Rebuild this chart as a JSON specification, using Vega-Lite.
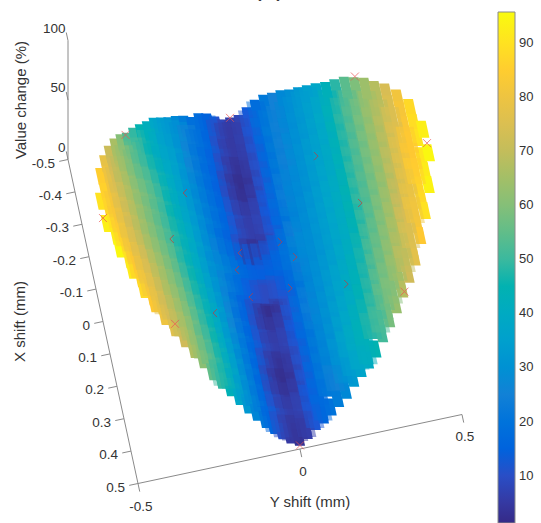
{"$schema":"https://vega.github.io/schema/vega-lite/v6.json","width":541,"height":523,"autosize":"none","padding":0,"background":"white",
"config":{"view":{"stroke":null}},
"datasets":{
"surface":[
{"x":-0.04,"y":-0.495,"v":90},{"x":0.04,"y":-0.495,"v":93},
{"x":-0.13,"y":-0.475,"v":85},{"x":-0.08,"y":-0.475,"v":86},{"x":-0.03,"y":-0.475,"v":87},{"x":0.03,"y":-0.475,"v":90},{"x":0.08,"y":-0.475,"v":92},{"x":0.13,"y":-0.475,"v":95},
{"x":-0.19,"y":-0.45,"v":78},{"x":-0.15,"y":-0.45,"v":80},{"x":-0.1,"y":-0.45,"v":81},{"x":-0.05,"y":-0.45,"v":82},{"x":0,"y":-0.45,"v":83},{"x":0.05,"y":-0.45,"v":85},{"x":0.1,"y":-0.45,"v":88},{"x":0.15,"y":-0.45,"v":90},{"x":0.19,"y":-0.45,"v":92},
{"x":-0.24,"y":-0.425,"v":71},{"x":-0.2,"y":-0.425,"v":72},{"x":-0.15,"y":-0.425,"v":74},{"x":-0.1,"y":-0.425,"v":75},{"x":-0.05,"y":-0.425,"v":76},{"x":0,"y":-0.425,"v":77},{"x":0.05,"y":-0.425,"v":79},{"x":0.1,"y":-0.425,"v":82},{"x":0.15,"y":-0.425,"v":84},{"x":0.2,"y":-0.425,"v":86},{"x":0.24,"y":-0.425,"v":88},
{"x":-0.275,"y":-0.4,"v":66},{"x":-0.25,"y":-0.4,"v":66},{"x":-0.2,"y":-0.4,"v":68},{"x":-0.15,"y":-0.4,"v":69},{"x":-0.1,"y":-0.4,"v":70},{"x":-0.05,"y":-0.4,"v":71},{"x":0,"y":-0.4,"v":72},{"x":0.05,"y":-0.4,"v":74},{"x":0.1,"y":-0.4,"v":76},{"x":0.15,"y":-0.4,"v":78},{"x":0.2,"y":-0.4,"v":81},{"x":0.25,"y":-0.4,"v":83},{"x":0.275,"y":-0.4,"v":84},
{"x":-0.305,"y":-0.375,"v":60},{"x":-0.25,"y":-0.375,"v":62},{"x":-0.2,"y":-0.375,"v":64},{"x":-0.15,"y":-0.375,"v":65},{"x":-0.1,"y":-0.375,"v":66},{"x":-0.05,"y":-0.375,"v":67},{"x":0,"y":-0.375,"v":68},{"x":0.05,"y":-0.375,"v":70},{"x":0.1,"y":-0.375,"v":72},{"x":0.15,"y":-0.375,"v":74},{"x":0.2,"y":-0.375,"v":76},{"x":0.25,"y":-0.375,"v":78},{"x":0.305,"y":-0.375,"v":80},
{"x":-0.33,"y":-0.35,"v":53},{"x":-0.3,"y":-0.35,"v":54},{"x":-0.25,"y":-0.35,"v":57},{"x":-0.2,"y":-0.35,"v":59},{"x":-0.15,"y":-0.35,"v":60},{"x":-0.1,"y":-0.35,"v":61},{"x":-0.05,"y":-0.35,"v":62},{"x":0,"y":-0.35,"v":63},{"x":0.05,"y":-0.35,"v":65},{"x":0.1,"y":-0.35,"v":67},{"x":0.15,"y":-0.35,"v":69},{"x":0.2,"y":-0.35,"v":71},{"x":0.25,"y":-0.35,"v":72},{"x":0.3,"y":-0.35,"v":74},{"x":0.33,"y":-0.35,"v":76},
{"x":-0.355,"y":-0.325,"v":49},{"x":-0.3,"y":-0.325,"v":52},{"x":-0.25,"y":-0.325,"v":53},{"x":-0.2,"y":-0.325,"v":55},{"x":-0.15,"y":-0.325,"v":57},{"x":-0.1,"y":-0.325,"v":57},{"x":-0.05,"y":-0.325,"v":58},{"x":0,"y":-0.325,"v":59},{"x":0.05,"y":-0.325,"v":61},{"x":0.1,"y":-0.325,"v":63},{"x":0.15,"y":-0.325,"v":64},{"x":0.2,"y":-0.325,"v":66},{"x":0.25,"y":-0.325,"v":68},{"x":0.3,"y":-0.325,"v":70},{"x":0.355,"y":-0.325,"v":72},
{"x":-0.375,"y":-0.3,"v":45},{"x":-0.35,"y":-0.3,"v":47},{"x":-0.3,"y":-0.3,"v":48},{"x":-0.25,"y":-0.3,"v":50},{"x":-0.2,"y":-0.3,"v":52},{"x":-0.15,"y":-0.3,"v":53},{"x":-0.1,"y":-0.3,"v":53},{"x":-0.05,"y":-0.3,"v":54},{"x":0,"y":-0.3,"v":55},{"x":0.05,"y":-0.3,"v":57},{"x":0.1,"y":-0.3,"v":58},{"x":0.15,"y":-0.3,"v":60},{"x":0.2,"y":-0.3,"v":62},{"x":0.25,"y":-0.3,"v":63},{"x":0.3,"y":-0.3,"v":65},{"x":0.35,"y":-0.3,"v":67},{"x":0.375,"y":-0.3,"v":67},
{"x":-0.39,"y":-0.275,"v":42},{"x":-0.35,"y":-0.275,"v":43},{"x":-0.3,"y":-0.275,"v":44},{"x":-0.25,"y":-0.275,"v":46},{"x":-0.2,"y":-0.275,"v":48},{"x":-0.15,"y":-0.275,"v":49},{"x":-0.1,"y":-0.275,"v":49},{"x":-0.05,"y":-0.275,"v":50},{"x":0,"y":-0.275,"v":51},{"x":0.05,"y":-0.275,"v":53},{"x":0.1,"y":-0.275,"v":54},{"x":0.15,"y":-0.275,"v":56},{"x":0.2,"y":-0.275,"v":57},{"x":0.25,"y":-0.275,"v":59},{"x":0.3,"y":-0.275,"v":60},{"x":0.35,"y":-0.275,"v":62},{"x":0.39,"y":-0.275,"v":61},
{"x":-0.41,"y":-0.25,"v":38},{"x":-0.35,"y":-0.25,"v":39},{"x":-0.3,"y":-0.25,"v":40},{"x":-0.25,"y":-0.25,"v":42},{"x":-0.2,"y":-0.25,"v":43},{"x":-0.15,"y":-0.25,"v":44},{"x":-0.1,"y":-0.25,"v":45},{"x":-0.05,"y":-0.25,"v":46},{"x":0,"y":-0.25,"v":46},{"x":0.05,"y":-0.25,"v":47},{"x":0.1,"y":-0.25,"v":49},{"x":0.15,"y":-0.25,"v":50},{"x":0.2,"y":-0.25,"v":52},{"x":0.25,"y":-0.25,"v":53},{"x":0.3,"y":-0.25,"v":54},{"x":0.35,"y":-0.25,"v":56},{"x":0.41,"y":-0.25,"v":55},
{"x":-0.42,"y":-0.225,"v":34},{"x":-0.4,"y":-0.225,"v":35},{"x":-0.35,"y":-0.225,"v":36},{"x":-0.3,"y":-0.225,"v":37},{"x":-0.25,"y":-0.225,"v":39},{"x":-0.2,"y":-0.225,"v":39},{"x":-0.15,"y":-0.225,"v":40},{"x":-0.1,"y":-0.225,"v":41},{"x":-0.05,"y":-0.225,"v":42},{"x":0,"y":-0.225,"v":42},{"x":0.05,"y":-0.225,"v":43},{"x":0.1,"y":-0.225,"v":45},{"x":0.15,"y":-0.225,"v":46},{"x":0.2,"y":-0.225,"v":47},{"x":0.25,"y":-0.225,"v":48},{"x":0.3,"y":-0.225,"v":50},{"x":0.35,"y":-0.225,"v":51},{"x":0.4,"y":-0.225,"v":50},{"x":0.42,"y":-0.225,"v":49},
{"x":-0.43,"y":-0.2,"v":30},{"x":-0.4,"y":-0.2,"v":32},{"x":-0.35,"y":-0.2,"v":34},{"x":-0.3,"y":-0.2,"v":35},{"x":-0.25,"y":-0.2,"v":35},{"x":-0.2,"y":-0.2,"v":36},{"x":-0.15,"y":-0.2,"v":36},{"x":-0.1,"y":-0.2,"v":37},{"x":-0.05,"y":-0.2,"v":38},{"x":0,"y":-0.2,"v":38},{"x":0.05,"y":-0.2,"v":39},{"x":0.1,"y":-0.2,"v":40},{"x":0.15,"y":-0.2,"v":41},{"x":0.2,"y":-0.2,"v":43},{"x":0.25,"y":-0.2,"v":44},{"x":0.3,"y":-0.2,"v":45},{"x":0.35,"y":-0.2,"v":46},{"x":0.4,"y":-0.2,"v":46},{"x":0.43,"y":-0.2,"v":44},
{"x":-0.44,"y":-0.175,"v":27},{"x":-0.4,"y":-0.175,"v":29},{"x":-0.35,"y":-0.175,"v":30},{"x":-0.3,"y":-0.175,"v":30},{"x":-0.25,"y":-0.175,"v":30},{"x":-0.2,"y":-0.175,"v":31},{"x":-0.15,"y":-0.175,"v":32},{"x":-0.1,"y":-0.175,"v":32},{"x":-0.05,"y":-0.175,"v":33},{"x":0,"y":-0.175,"v":33},{"x":0.05,"y":-0.175,"v":34},{"x":0.1,"y":-0.175,"v":35},{"x":0.15,"y":-0.175,"v":36},{"x":0.2,"y":-0.175,"v":37},{"x":0.25,"y":-0.175,"v":38},{"x":0.3,"y":-0.175,"v":39},{"x":0.35,"y":-0.175,"v":40},{"x":0.4,"y":-0.175,"v":40},{"x":0.44,"y":-0.175,"v":38},
{"x":-0.45,"y":-0.15,"v":23},{"x":-0.4,"y":-0.15,"v":25},{"x":-0.35,"y":-0.15,"v":25},{"x":-0.3,"y":-0.15,"v":25},{"x":-0.25,"y":-0.15,"v":26},{"x":-0.2,"y":-0.15,"v":26},{"x":-0.15,"y":-0.15,"v":27},{"x":-0.1,"y":-0.15,"v":27},{"x":-0.05,"y":-0.15,"v":28},{"x":0,"y":-0.15,"v":28},{"x":0.05,"y":-0.15,"v":29},{"x":0.1,"y":-0.15,"v":30},{"x":0.15,"y":-0.15,"v":31},{"x":0.2,"y":-0.15,"v":31},{"x":0.25,"y":-0.15,"v":32},{"x":0.3,"y":-0.15,"v":33},{"x":0.35,"y":-0.15,"v":34},{"x":0.4,"y":-0.15,"v":33},{"x":0.45,"y":-0.15,"v":32},
{"x":-0.455,"y":-0.125,"v":19},{"x":-0.4,"y":-0.125,"v":20},{"x":-0.35,"y":-0.125,"v":21},{"x":-0.3,"y":-0.125,"v":21},{"x":-0.25,"y":-0.125,"v":21},{"x":-0.2,"y":-0.125,"v":22},{"x":-0.15,"y":-0.125,"v":22},{"x":-0.1,"y":-0.125,"v":22},{"x":-0.05,"y":-0.125,"v":24},{"x":0,"y":-0.125,"v":26},{"x":0.05,"y":-0.125,"v":24},{"x":0.1,"y":-0.125,"v":24},{"x":0.15,"y":-0.125,"v":25},{"x":0.2,"y":-0.125,"v":25},{"x":0.25,"y":-0.125,"v":26},{"x":0.3,"y":-0.125,"v":26},{"x":0.35,"y":-0.125,"v":27},{"x":0.4,"y":-0.125,"v":27},{"x":0.455,"y":-0.125,"v":26},
{"x":-0.465,"y":-0.1,"v":18},{"x":-0.4,"y":-0.1,"v":18},{"x":-0.35,"y":-0.1,"v":17},{"x":-0.3,"y":-0.1,"v":17},{"x":-0.25,"y":-0.1,"v":17},{"x":-0.2,"y":-0.1,"v":18},{"x":-0.15,"y":-0.1,"v":18},{"x":-0.1,"y":-0.1,"v":17},{"x":-0.05,"y":-0.1,"v":21},{"x":0,"y":-0.1,"v":22},{"x":0.05,"y":-0.1,"v":20},{"x":0.1,"y":-0.1,"v":18},{"x":0.15,"y":-0.1,"v":19},{"x":0.2,"y":-0.1,"v":20},{"x":0.25,"y":-0.1,"v":20},{"x":0.3,"y":-0.1,"v":20},{"x":0.35,"y":-0.1,"v":21},{"x":0.4,"y":-0.1,"v":21},{"x":0.465,"y":-0.1,"v":21},
{"x":-0.47,"y":-0.075,"v":15},{"x":-0.45,"y":-0.075,"v":15},{"x":-0.4,"y":-0.075,"v":15},{"x":-0.35,"y":-0.075,"v":14},{"x":-0.3,"y":-0.075,"v":14},{"x":-0.25,"y":-0.075,"v":14},{"x":-0.2,"y":-0.075,"v":15},{"x":-0.15,"y":-0.075,"v":15},{"x":-0.1,"y":-0.075,"v":14},{"x":-0.05,"y":-0.075,"v":18},{"x":0,"y":-0.075,"v":19},{"x":0.05,"y":-0.075,"v":17},{"x":0.1,"y":-0.075,"v":14},{"x":0.15,"y":-0.075,"v":15},{"x":0.2,"y":-0.075,"v":15},{"x":0.25,"y":-0.075,"v":15},{"x":0.3,"y":-0.075,"v":15},{"x":0.35,"y":-0.075,"v":15},{"x":0.4,"y":-0.075,"v":16},{"x":0.45,"y":-0.075,"v":16},{"x":0.47,"y":-0.075,"v":16},
{"x":-0.47,"y":-0.05,"v":11},{"x":-0.45,"y":-0.05,"v":10},{"x":-0.4,"y":-0.05,"v":10},{"x":-0.35,"y":-0.05,"v":9},{"x":-0.3,"y":-0.05,"v":8},{"x":-0.25,"y":-0.05,"v":9},{"x":-0.2,"y":-0.05,"v":11},{"x":-0.15,"y":-0.05,"v":11},{"x":-0.1,"y":-0.05,"v":9},{"x":-0.05,"y":-0.05,"v":15},{"x":0,"y":-0.05,"v":16},{"x":0.05,"y":-0.05,"v":13},{"x":0.1,"y":-0.05,"v":9},{"x":0.15,"y":-0.05,"v":10},{"x":0.2,"y":-0.05,"v":11},{"x":0.25,"y":-0.05,"v":9},{"x":0.3,"y":-0.05,"v":8},{"x":0.35,"y":-0.05,"v":9},{"x":0.4,"y":-0.05,"v":11},{"x":0.45,"y":-0.05,"v":10},{"x":0.47,"y":-0.05,"v":10},
{"x":-0.47,"y":-0.025,"v":7},{"x":-0.45,"y":-0.025,"v":6},{"x":-0.4,"y":-0.025,"v":6},{"x":-0.35,"y":-0.025,"v":5},{"x":-0.3,"y":-0.025,"v":4},{"x":-0.25,"y":-0.025,"v":5},{"x":-0.2,"y":-0.025,"v":7},{"x":-0.15,"y":-0.025,"v":7},{"x":-0.1,"y":-0.025,"v":4},{"x":-0.05,"y":-0.025,"v":13},{"x":0,"y":-0.025,"v":14},{"x":0.05,"y":-0.025,"v":10},{"x":0.1,"y":-0.025,"v":4},{"x":0.15,"y":-0.025,"v":6},{"x":0.2,"y":-0.025,"v":7},{"x":0.25,"y":-0.025,"v":5},{"x":0.3,"y":-0.025,"v":4},{"x":0.35,"y":-0.025,"v":6},{"x":0.4,"y":-0.025,"v":7},{"x":0.45,"y":-0.025,"v":6},{"x":0.47,"y":-0.025,"v":5},
{"x":-0.475,"y":0,"v":6},{"x":-0.45,"y":0,"v":5},{"x":-0.4,"y":0,"v":5},{"x":-0.35,"y":0,"v":3},{"x":-0.3,"y":0,"v":2},{"x":-0.25,"y":0,"v":3},{"x":-0.2,"y":0,"v":6},{"x":-0.15,"y":0,"v":6},{"x":-0.1,"y":0,"v":2},{"x":-0.05,"y":0,"v":12},{"x":0,"y":0,"v":14},{"x":0.05,"y":0,"v":9},{"x":0.1,"y":0,"v":2},{"x":0.15,"y":0,"v":5},{"x":0.2,"y":0,"v":6},{"x":0.25,"y":0,"v":3},{"x":0.3,"y":0,"v":2},{"x":0.35,"y":0,"v":4},{"x":0.4,"y":0,"v":6},{"x":0.45,"y":0,"v":4},{"x":0.475,"y":0,"v":3},
{"x":-0.47,"y":0.025,"v":8},{"x":-0.45,"y":0.025,"v":7},{"x":-0.4,"y":0.025,"v":7},{"x":-0.35,"y":0.025,"v":6},{"x":-0.3,"y":0.025,"v":5},{"x":-0.25,"y":0.025,"v":6},{"x":-0.2,"y":0.025,"v":8},{"x":-0.15,"y":0.025,"v":8},{"x":-0.1,"y":0.025,"v":5},{"x":-0.05,"y":0.025,"v":13},{"x":0,"y":0.025,"v":15},{"x":0.05,"y":0.025,"v":11},{"x":0.1,"y":0.025,"v":5},{"x":0.15,"y":0.025,"v":7},{"x":0.2,"y":0.025,"v":8},{"x":0.25,"y":0.025,"v":6},{"x":0.3,"y":0.025,"v":5},{"x":0.35,"y":0.025,"v":6},{"x":0.4,"y":0.025,"v":8},{"x":0.45,"y":0.025,"v":6},{"x":0.47,"y":0.025,"v":6},
{"x":-0.47,"y":0.05,"v":13},{"x":-0.45,"y":0.05,"v":12},{"x":-0.4,"y":0.05,"v":12},{"x":-0.35,"y":0.05,"v":11},{"x":-0.3,"y":0.05,"v":11},{"x":-0.25,"y":0.05,"v":11},{"x":-0.2,"y":0.05,"v":13},{"x":-0.15,"y":0.05,"v":13},{"x":-0.1,"y":0.05,"v":11},{"x":-0.05,"y":0.05,"v":16},{"x":0,"y":0.05,"v":17},{"x":0.05,"y":0.05,"v":14},{"x":0.1,"y":0.05,"v":11},{"x":0.15,"y":0.05,"v":12},{"x":0.2,"y":0.05,"v":13},{"x":0.25,"y":0.05,"v":11},{"x":0.3,"y":0.05,"v":11},{"x":0.35,"y":0.05,"v":12},{"x":0.4,"y":0.05,"v":13},{"x":0.45,"y":0.05,"v":12},{"x":0.47,"y":0.05,"v":12},
{"x":-0.47,"y":0.075,"v":18},{"x":-0.45,"y":0.075,"v":18},{"x":-0.4,"y":0.075,"v":18},{"x":-0.35,"y":0.075,"v":17},{"x":-0.3,"y":0.075,"v":17},{"x":-0.25,"y":0.075,"v":17},{"x":-0.2,"y":0.075,"v":18},{"x":-0.15,"y":0.075,"v":18},{"x":-0.1,"y":0.075,"v":17},{"x":-0.05,"y":0.075,"v":20},{"x":0,"y":0.075,"v":21},{"x":0.05,"y":0.075,"v":19},{"x":0.1,"y":0.075,"v":17},{"x":0.15,"y":0.075,"v":18},{"x":0.2,"y":0.075,"v":18},{"x":0.25,"y":0.075,"v":17},{"x":0.3,"y":0.075,"v":17},{"x":0.35,"y":0.075,"v":17},{"x":0.4,"y":0.075,"v":17},{"x":0.45,"y":0.075,"v":17},{"x":0.47,"y":0.075,"v":16},
{"x":-0.465,"y":0.1,"v":22},{"x":-0.4,"y":0.1,"v":23},{"x":-0.35,"y":0.1,"v":23},{"x":-0.3,"y":0.1,"v":23},{"x":-0.25,"y":0.1,"v":23},{"x":-0.2,"y":0.1,"v":24},{"x":-0.15,"y":0.1,"v":24},{"x":-0.1,"y":0.1,"v":23},{"x":-0.05,"y":0.1,"v":25},{"x":0,"y":0.1,"v":26},{"x":0.05,"y":0.1,"v":24},{"x":0.1,"y":0.1,"v":23},{"x":0.15,"y":0.1,"v":24},{"x":0.2,"y":0.1,"v":24},{"x":0.25,"y":0.1,"v":23},{"x":0.3,"y":0.1,"v":23},{"x":0.35,"y":0.1,"v":23},{"x":0.4,"y":0.1,"v":22},{"x":0.465,"y":0.1,"v":20},
{"x":-0.455,"y":0.125,"v":25},{"x":-0.4,"y":0.125,"v":25},{"x":-0.35,"y":0.125,"v":25},{"x":-0.3,"y":0.125,"v":25},{"x":-0.25,"y":0.125,"v":25},{"x":-0.2,"y":0.125,"v":26},{"x":-0.15,"y":0.125,"v":26},{"x":-0.1,"y":0.125,"v":26},{"x":-0.05,"y":0.125,"v":27},{"x":0,"y":0.125,"v":28},{"x":0.05,"y":0.125,"v":27},{"x":0.1,"y":0.125,"v":27},{"x":0.15,"y":0.125,"v":27},{"x":0.2,"y":0.125,"v":27},{"x":0.25,"y":0.125,"v":27},{"x":0.3,"y":0.125,"v":27},{"x":0.35,"y":0.125,"v":26},{"x":0.4,"y":0.125,"v":25},{"x":0.455,"y":0.125,"v":23},
{"x":-0.45,"y":0.15,"v":27},{"x":-0.4,"y":0.15,"v":27},{"x":-0.35,"y":0.15,"v":27},{"x":-0.3,"y":0.15,"v":28},{"x":-0.25,"y":0.15,"v":28},{"x":-0.2,"y":0.15,"v":28},{"x":-0.15,"y":0.15,"v":28},{"x":-0.1,"y":0.15,"v":29},{"x":-0.05,"y":0.15,"v":29},{"x":0,"y":0.15,"v":29},{"x":0.05,"y":0.15,"v":29},{"x":0.1,"y":0.15,"v":30},{"x":0.15,"y":0.15,"v":30},{"x":0.2,"y":0.15,"v":31},{"x":0.25,"y":0.15,"v":31},{"x":0.3,"y":0.15,"v":31},{"x":0.35,"y":0.15,"v":32},{"x":0.4,"y":0.15,"v":30},{"x":0.45,"y":0.15,"v":27},
{"x":-0.44,"y":0.175,"v":29},{"x":-0.4,"y":0.175,"v":30},{"x":-0.35,"y":0.175,"v":30},{"x":-0.3,"y":0.175,"v":30},{"x":-0.25,"y":0.175,"v":31},{"x":-0.2,"y":0.175,"v":31},{"x":-0.15,"y":0.175,"v":31},{"x":-0.1,"y":0.175,"v":32},{"x":-0.05,"y":0.175,"v":32},{"x":0,"y":0.175,"v":32},{"x":0.05,"y":0.175,"v":32},{"x":0.1,"y":0.175,"v":33},{"x":0.15,"y":0.175,"v":34},{"x":0.2,"y":0.175,"v":34},{"x":0.25,"y":0.175,"v":35},{"x":0.3,"y":0.175,"v":36},{"x":0.35,"y":0.175,"v":37},{"x":0.4,"y":0.175,"v":35},{"x":0.44,"y":0.175,"v":33},
{"x":-0.43,"y":0.2,"v":32},{"x":-0.4,"y":0.2,"v":33},{"x":-0.35,"y":0.2,"v":33},{"x":-0.3,"y":0.2,"v":33},{"x":-0.25,"y":0.2,"v":34},{"x":-0.2,"y":0.2,"v":34},{"x":-0.15,"y":0.2,"v":34},{"x":-0.1,"y":0.2,"v":35},{"x":-0.05,"y":0.2,"v":35},{"x":0,"y":0.2,"v":35},{"x":0.05,"y":0.2,"v":35},{"x":0.1,"y":0.2,"v":36},{"x":0.15,"y":0.2,"v":37},{"x":0.2,"y":0.2,"v":37},{"x":0.25,"y":0.2,"v":38},{"x":0.3,"y":0.2,"v":39},{"x":0.35,"y":0.2,"v":41},{"x":0.4,"y":0.2,"v":39},{"x":0.43,"y":0.2,"v":37},
{"x":-0.42,"y":0.225,"v":35},{"x":-0.4,"y":0.225,"v":35},{"x":-0.35,"y":0.225,"v":36},{"x":-0.3,"y":0.225,"v":36},{"x":-0.25,"y":0.225,"v":36},{"x":-0.2,"y":0.225,"v":37},{"x":-0.15,"y":0.225,"v":37},{"x":-0.1,"y":0.225,"v":38},{"x":-0.05,"y":0.225,"v":38},{"x":0,"y":0.225,"v":38},{"x":0.05,"y":0.225,"v":38},{"x":0.1,"y":0.225,"v":39},{"x":0.15,"y":0.225,"v":40},{"x":0.2,"y":0.225,"v":41},{"x":0.25,"y":0.225,"v":41},{"x":0.3,"y":0.225,"v":43},{"x":0.35,"y":0.225,"v":44},{"x":0.4,"y":0.225,"v":42},{"x":0.42,"y":0.225,"v":40},
{"x":-0.41,"y":0.25,"v":38},{"x":-0.35,"y":0.25,"v":39},{"x":-0.3,"y":0.25,"v":39},{"x":-0.25,"y":0.25,"v":39},{"x":-0.2,"y":0.25,"v":40},{"x":-0.15,"y":0.25,"v":40},{"x":-0.1,"y":0.25,"v":41},{"x":-0.05,"y":0.25,"v":41},{"x":0,"y":0.25,"v":41},{"x":0.05,"y":0.25,"v":41},{"x":0.1,"y":0.25,"v":42},{"x":0.15,"y":0.25,"v":43},{"x":0.2,"y":0.25,"v":44},{"x":0.25,"y":0.25,"v":45},{"x":0.3,"y":0.25,"v":46},{"x":0.35,"y":0.25,"v":48},{"x":0.41,"y":0.25,"v":45},
{"x":-0.39,"y":0.275,"v":43},{"x":-0.35,"y":0.275,"v":43},{"x":-0.3,"y":0.275,"v":44},{"x":-0.25,"y":0.275,"v":44},{"x":-0.2,"y":0.275,"v":44},{"x":-0.15,"y":0.275,"v":44},{"x":-0.1,"y":0.275,"v":45},{"x":-0.05,"y":0.275,"v":45},{"x":0,"y":0.275,"v":45},{"x":0.05,"y":0.275,"v":45},{"x":0.1,"y":0.275,"v":46},{"x":0.15,"y":0.275,"v":47},{"x":0.2,"y":0.275,"v":48},{"x":0.25,"y":0.275,"v":49},{"x":0.3,"y":0.275,"v":50},{"x":0.35,"y":0.275,"v":52},{"x":0.39,"y":0.275,"v":51},
{"x":-0.375,"y":0.3,"v":48},{"x":-0.35,"y":0.3,"v":48},{"x":-0.3,"y":0.3,"v":49},{"x":-0.25,"y":0.3,"v":49},{"x":-0.2,"y":0.3,"v":49},{"x":-0.15,"y":0.3,"v":49},{"x":-0.1,"y":0.3,"v":50},{"x":-0.05,"y":0.3,"v":50},{"x":0,"y":0.3,"v":50},{"x":0.05,"y":0.3,"v":50},{"x":0.1,"y":0.3,"v":52},{"x":0.15,"y":0.3,"v":53},{"x":0.2,"y":0.3,"v":54},{"x":0.25,"y":0.3,"v":55},{"x":0.3,"y":0.3,"v":56},{"x":0.35,"y":0.3,"v":58},{"x":0.375,"y":0.3,"v":58},
{"x":-0.355,"y":0.325,"v":54},{"x":-0.3,"y":0.325,"v":54},{"x":-0.25,"y":0.325,"v":54},{"x":-0.2,"y":0.325,"v":54},{"x":-0.15,"y":0.325,"v":54},{"x":-0.1,"y":0.325,"v":54},{"x":-0.05,"y":0.325,"v":54},{"x":0,"y":0.325,"v":54},{"x":0.05,"y":0.325,"v":55},{"x":0.1,"y":0.325,"v":56},{"x":0.15,"y":0.325,"v":57},{"x":0.2,"y":0.325,"v":58},{"x":0.25,"y":0.325,"v":59},{"x":0.3,"y":0.325,"v":60},{"x":0.355,"y":0.325,"v":63},
{"x":-0.33,"y":0.35,"v":59},{"x":-0.3,"y":0.35,"v":59},{"x":-0.25,"y":0.35,"v":59},{"x":-0.2,"y":0.35,"v":59},{"x":-0.15,"y":0.35,"v":59},{"x":-0.1,"y":0.35,"v":59},{"x":-0.05,"y":0.35,"v":59},{"x":0,"y":0.35,"v":59},{"x":0.05,"y":0.35,"v":60},{"x":0.1,"y":0.35,"v":61},{"x":0.15,"y":0.35,"v":62},{"x":0.2,"y":0.35,"v":63},{"x":0.25,"y":0.35,"v":64},{"x":0.3,"y":0.35,"v":66},{"x":0.33,"y":0.35,"v":68},
{"x":-0.305,"y":0.375,"v":64},{"x":-0.25,"y":0.375,"v":64},{"x":-0.2,"y":0.375,"v":64},{"x":-0.15,"y":0.375,"v":64},{"x":-0.1,"y":0.375,"v":64},{"x":-0.05,"y":0.375,"v":64},{"x":0,"y":0.375,"v":64},{"x":0.05,"y":0.375,"v":65},{"x":0.1,"y":0.375,"v":66},{"x":0.15,"y":0.375,"v":67},{"x":0.2,"y":0.375,"v":68},{"x":0.25,"y":0.375,"v":70},{"x":0.305,"y":0.375,"v":72},
{"x":-0.275,"y":0.4,"v":68},{"x":-0.25,"y":0.4,"v":68},{"x":-0.2,"y":0.4,"v":69},{"x":-0.15,"y":0.4,"v":69},{"x":-0.1,"y":0.4,"v":69},{"x":-0.05,"y":0.4,"v":70},{"x":0,"y":0.4,"v":70},{"x":0.05,"y":0.4,"v":71},{"x":0.1,"y":0.4,"v":72},{"x":0.15,"y":0.4,"v":74},{"x":0.2,"y":0.4,"v":75},{"x":0.25,"y":0.4,"v":76},{"x":0.275,"y":0.4,"v":77},
{"x":-0.24,"y":0.425,"v":74},{"x":-0.2,"y":0.425,"v":75},{"x":-0.15,"y":0.425,"v":75},{"x":-0.1,"y":0.425,"v":76},{"x":-0.05,"y":0.425,"v":77},{"x":0,"y":0.425,"v":77},{"x":0.05,"y":0.425,"v":78},{"x":0.1,"y":0.425,"v":79},{"x":0.15,"y":0.425,"v":81},{"x":0.2,"y":0.425,"v":82},{"x":0.24,"y":0.425,"v":84},
{"x":-0.19,"y":0.45,"v":81},{"x":-0.15,"y":0.45,"v":82},{"x":-0.1,"y":0.45,"v":83},{"x":-0.05,"y":0.45,"v":84},{"x":0,"y":0.45,"v":84},{"x":0.05,"y":0.45,"v":85},{"x":0.1,"y":0.45,"v":87},{"x":0.15,"y":0.45,"v":88},{"x":0.19,"y":0.45,"v":90},
{"x":-0.13,"y":0.475,"v":88},{"x":-0.08,"y":0.475,"v":89},{"x":-0.03,"y":0.475,"v":90},{"x":0.03,"y":0.475,"v":91},{"x":0.08,"y":0.475,"v":92},{"x":0.13,"y":0.475,"v":94},
{"x":-0.04,"y":0.495,"v":93},{"x":0.04,"y":0.495,"v":95}
],
"markers":[
{"kind":"outer","x":0.5,"y":0,"v":3},{"kind":"outer","x":0.354,"y":0.354,"v":72},{"kind":"outer","x":0,"y":0.5,"v":92},{"kind":"outer","x":-0.354,"y":0.354,"v":60},{"kind":"outer","x":-0.5,"y":0,"v":6},{"kind":"outer","x":-0.354,"y":-0.354,"v":52},{"kind":"outer","x":0,"y":-0.5,"v":87},{"kind":"outer","x":0.354,"y":-0.354,"v":86},
{"kind":"left","x":-0.199,"y":-0.21,"v":37},{"kind":"left","x":-0.026,"y":-0.288,"v":50},{"kind":"left","x":0.174,"y":-0.198,"v":37},{"kind":"left","x":-0.093,"y":-0.063,"v":7},{"kind":"left","x":-0.02,"y":-0.088,"v":14},{"kind":"left","x":0.062,"y":-0.063,"v":12},
{"kind":"right","x":-0.237,"y":0.215,"v":33},{"kind":"right","x":-0.029,"y":0.306,"v":45},{"kind":"right","x":-0.077,"y":0.069,"v":13},{"kind":"right","x":-0.005,"y":0.1,"v":18},{"kind":"right","x":0.073,"y":0.068,"v":15},{"kind":"right","x":0.17,"y":0.22,"v":36}
],
"ticks":[
{"x":-0.5,"y":-0.5,"x2":-0.5,"y2":-0.527},{"x":-0.4,"y":-0.5,"x2":-0.4,"y2":-0.527},{"x":-0.3,"y":-0.5,"x2":-0.3,"y2":-0.527},{"x":-0.2,"y":-0.5,"x2":-0.2,"y2":-0.527},{"x":-0.1,"y":-0.5,"x2":-0.1,"y2":-0.527},{"x":0,"y":-0.5,"x2":0,"y2":-0.527},{"x":0.1,"y":-0.5,"x2":0.1,"y2":-0.527},{"x":0.2,"y":-0.5,"x2":0.2,"y2":-0.527},{"x":0.3,"y":-0.5,"x2":0.3,"y2":-0.527},{"x":0.4,"y":-0.5,"x2":0.4,"y2":-0.527},{"x":0.5,"y":-0.5,"x2":0.5,"y2":-0.527},
{"x":0.5,"y":-0.5,"x2":0.525,"y2":-0.5},{"x":0.5,"y":0,"x2":0.525,"y2":0},{"x":0.5,"y":0.5,"x2":0.525,"y2":0.5},
{"x":-0.5,"y":-0.5,"z":0,"x2":-0.525,"y2":-0.5},{"x":-0.5,"y":-0.5,"z":50,"x2":-0.525,"y2":-0.5},{"x":-0.5,"y":-0.5,"z":100,"x2":-0.525,"y2":-0.5}
],
"box":[{"o":0,"x":-0.5,"y":-0.5,"z":100},{"o":1,"x":-0.5,"y":-0.5,"z":0},{"o":2,"x":0.5,"y":-0.5,"z":0},{"o":3,"x":0.5,"y":0.5,"z":0}],
"labels":[
{"g":"xt","lbl":"-0.5","x":-0.5,"y":-0.5,"z":0},{"g":"xt","lbl":"-0.4","x":-0.4,"y":-0.5,"z":0},{"g":"xt","lbl":"-0.3","x":-0.3,"y":-0.5,"z":0},{"g":"xt","lbl":"-0.2","x":-0.2,"y":-0.5,"z":0},{"g":"xt","lbl":"-0.1","x":-0.1,"y":-0.5,"z":0},{"g":"xt","lbl":"0","x":0,"y":-0.5,"z":0},{"g":"xt","lbl":"0.1","x":0.1,"y":-0.5,"z":0},{"g":"xt","lbl":"0.2","x":0.2,"y":-0.5,"z":0},{"g":"xt","lbl":"0.3","x":0.3,"y":-0.5,"z":0},{"g":"xt","lbl":"0.4","x":0.4,"y":-0.5,"z":0},{"g":"xt","lbl":"0.5","x":0.5,"y":-0.5,"z":0},
{"g":"yt","lbl":"-0.5","x":0.5,"y":-0.5,"z":0},{"g":"yt","lbl":"0","x":0.5,"y":0,"z":0},{"g":"yt","lbl":"0.5","x":0.5,"y":0.5,"z":0},
{"g":"zt","lbl":"0","x":-0.5,"y":-0.5,"z":0},{"g":"zt","lbl":"50","x":-0.5,"y":-0.5,"z":50},{"g":"zt","lbl":"100","x":-0.5,"y":-0.5,"z":100},
{"g":"zT","lbl":"Value change (%)","x":-0.5,"y":-0.5,"z":50},{"g":"xT","lbl":"X shift (mm)","x":0,"y":-0.5,"z":0},{"g":"yT","lbl":"Y shift (mm)","x":0.5,"y":0,"z":0},{"g":"T","lbl":"(a)","x":-0.5,"y":0,"z":100}
],
"barTicks":[{"tick":10},{"tick":20},{"tick":30},{"tick":40},{"tick":50},{"tick":60},{"tick":70},{"tick":80},{"tick":90}]
},
"layer":[
{"layer":[
{"data":{"name":"box"},"transform":[{"calculate":"datum.y+0.216*datum.x","as":"u"},{"calculate":"datum.x-0.213*datum.y-0.00367*datum.z","as":"w"}],
"mark":{"type":"line","stroke":"#8a8a8a","strokeWidth":1},
"encoding":{"order":{"field":"o"},"x":{"field":"u","type":"quantitative","scale":{"domain":[-0.8179,0.8519]},"axis":null},"y":{"field":"w","type":"quantitative","scale":{"domain":[0.7284,-0.8858]},"axis":null}}},
{"data":{"name":"ticks"},"transform":[{"calculate":"datum.y+0.216*datum.x","as":"u"},{"calculate":"datum.x-0.213*datum.y-0.00367*(datum.z||0)","as":"w"},{"calculate":"datum.y2+0.216*datum.x2","as":"u2"},{"calculate":"datum.x2-0.213*datum.y2-0.00367*(datum.z||0)","as":"w2"}],
"mark":{"type":"rule","stroke":"#8a8a8a","strokeWidth":1},
"encoding":{"x":{"field":"u","type":"quantitative","scale":{"domain":[-0.8179,0.8519]},"axis":null},"y":{"field":"w","type":"quantitative","scale":{"domain":[0.7284,-0.8858]},"axis":null},"x2":{"field":"u2"},"y2":{"field":"w2"}}},
{"data":{"name":"surface"},"transform":[{"calculate":"datum.y+0.216*datum.x","as":"u"},{"calculate":"datum.x-0.213*datum.y-0.00367*datum.v","as":"w"}],
"encoding":{"x":{"field":"u","type":"quantitative","scale":{"domain":[-0.8179,0.8519]},"axis":null},"y":{"field":"w","type":"quantitative","scale":{"domain":[0.7284,-0.8858]},"axis":null},
"color":{"field":"v","type":"quantitative","scale":{"domain":[1.25,13.06,24.87,36.68,48.47,60.28,72.09,83.9,95.7],"range":["#352A87","#0F5CDD","#1481D6","#06A4CA","#2EB7A4","#87BF77","#D1BB59","#FEC832","#F9FB0E"]},
"legend":{"orient":"none","legendX":498,"legendY":12,"direction":"vertical","gradientLength":511,"gradientThickness":17,"title":null,"values":[10,20,30,40,50,60,70,80,90],"gradientStrokeColor":"#8a8a8a","gradientStrokeWidth":1,"labelFont":"Liberation Sans","labelFontSize":13,"labelColor":"#333333","labelOffset":4}}},
"layer":[
{"transform":[{"filter":"datum.x*datum.x+datum.y*datum.y<0.2116"}],"mark":{"type":"point","filled":true,"shape":"M-0.78,-1.3L0.22,-1.3L0.78,1.3L-0.22,1.3Z","size":400,"opacity":1,"strokeWidth":0}},
{"mark":{"type":"point","filled":true,"shape":"M-0.684,-0.85L0.316,-0.85L0.684,0.85L-0.316,0.85Z","size":400,"opacity":1,"strokeWidth":0}},
{"transform":[{"filter":"datum.x*datum.x+datum.y*datum.y<0.2116"}],"mark":{"type":"point","filled":true,"shape":"M-1.18,-1.3L0.62,-1.3L1.18,1.3L-0.62,1.3Z","size":400,"opacity":0.5,"strokeWidth":0}}
]},
{"data":{"name":"markers"},"transform":[{"calculate":"datum.y+0.216*datum.x","as":"u"},{"calculate":"datum.x-0.213*datum.y-0.00367*datum.v","as":"w"}],
"encoding":{"x":{"field":"u","type":"quantitative","scale":{"domain":[-0.8179,0.8519]},"axis":null},"y":{"field":"w","type":"quantitative","scale":{"domain":[0.7284,-0.8858]},"axis":null}},
"layer":[
{"transform":[{"filter":"datum.kind==='outer'"}],"mark":{"type":"point","filled":false,"shape":"M-1,-1L1,1M-1,1L1,-1","size":64,"stroke":"#ee5555","strokeWidth":1,"opacity":0.7}},
{"transform":[{"filter":"datum.kind==='left'"}],"mark":{"type":"point","filled":false,"shape":"M1,-1L0,0L1,1","size":64,"stroke":"#c8383a","strokeWidth":1,"opacity":0.7}},
{"transform":[{"filter":"datum.kind==='right'"}],"mark":{"type":"point","filled":false,"shape":"M-1,-1L0,0L-1,1","size":64,"stroke":"#c8383a","strokeWidth":1,"opacity":0.7}}
]},
{"data":{"name":"labels"},"transform":[{"calculate":"datum.y+0.216*datum.x","as":"u"},{"calculate":"datum.x-0.213*datum.y-0.00367*datum.z","as":"w"}],
"encoding":{"x":{"field":"u","type":"quantitative","scale":{"domain":[-0.8179,0.8519]},"axis":null},"y":{"field":"w","type":"quantitative","scale":{"domain":[0.7284,-0.8858]},"axis":null},"text":{"field":"lbl"}},
"layer":[
{"transform":[{"filter":"datum.g==='xt'"}],"mark":{"type":"text","font":"Liberation Sans","fontSize":13.5,"fill":"#333333","align":"right","baseline":"middle","dx":-13,"dy":4}},
{"transform":[{"filter":"datum.g==='yt'"}],"mark":{"type":"text","font":"Liberation Sans","fontSize":13.5,"fill":"#333333","align":"center","baseline":"middle","dx":3,"dy":23}},
{"transform":[{"filter":"datum.g==='zt'"}],"mark":{"type":"text","font":"Liberation Sans","fontSize":13.5,"fill":"#333333","align":"right","baseline":"middle","dx":-2.5,"dy":-12}},
{"transform":[{"filter":"datum.g==='zT'"}],"mark":{"type":"text","font":"Liberation Sans","fontSize":15,"fill":"#333333","align":"center","baseline":"middle","angle":270,"dy":-47}},
{"transform":[{"filter":"datum.g==='xT'"}],"mark":{"type":"text","font":"Liberation Sans","fontSize":15,"fill":"#333333","align":"center","baseline":"middle","angle":270,"dy":-83}},
{"transform":[{"filter":"datum.g==='yT'"}],"mark":{"type":"text","font":"Liberation Sans","fontSize":15,"fill":"#333333","align":"center","baseline":"middle","dx":10,"dy":53}},
{"transform":[{"filter":"datum.g==='T'"}],"mark":{"type":"text","font":"Liberation Sans","fontSize":26,"fill":"#333333","align":"center","baseline":"alphabetic","dx":39,"dy":-10}}
]}
]},
{"data":{"name":"barTicks"},"mark":{"type":"rule","stroke":"#555555","strokeWidth":1,"opacity":0.8},
"encoding":{"x":{"datum":0.7562,"type":"quantitative","scale":{"domain":[-0.8179,0.8519]},"axis":null},"x2":{"datum":0.7716},"y":{"field":"tick","type":"quantitative","scale":{"domain":[1.25,97.92]},"axis":null}}}
],
"resolve":{"scale":{"y":"independent"}}}
